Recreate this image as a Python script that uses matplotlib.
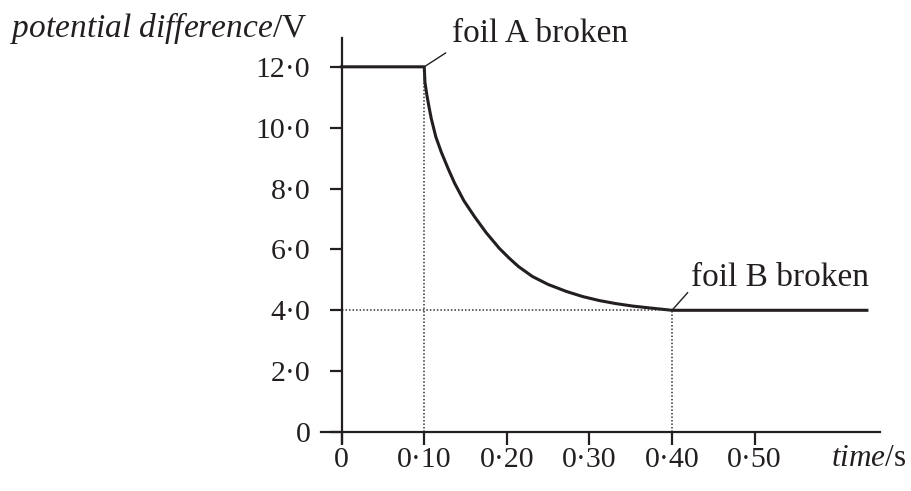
import matplotlib
matplotlib.use("Agg")
import matplotlib.pyplot as plt

# p.d. across the capacitor network
time_s = [0.0, 0.1000, 0.1008, 0.1033, 0.1060, 0.1085, 0.1140, 0.1206,
          0.1290, 0.1367, 0.1480, 0.1608, 0.1750, 0.1911, 0.2030, 0.2140,
          0.231, 0.250, 0.272, 0.292, 0.312, 0.332, 0.352, 0.372, 0.393,
          0.400, 0.636]
pd_volts = [12.0, 12.0, 11.5, 11.05, 10.65, 10.3, 9.7, 9.2,
            8.65, 8.18, 7.60, 7.08, 6.55, 6.03, 5.71, 5.44,
            5.11, 4.85, 4.62, 4.45, 4.32, 4.22, 4.14, 4.08, 4.02,
            4.00, 4.00]

x_ticks = [0.0, 0.10, 0.20, 0.30, 0.40, 0.50]
x_labels = ["0", "0·10", "0·20", "0·30", "0·40", "0·50"]
y_ticks = [0, 2, 4, 6, 8, 10, 12]
y_labels = ["0", "2·0", "4·0", "6·0", "8·0", "10·0", "12·0"]

t_foil_a, v_foil_a = 0.10, 12.0
t_foil_b, v_foil_b = 0.40, 4.0

plt.rcParams["font.family"] = "Liberation Serif"
plt.rcParams["mathtext.fontset"] = "custom"
plt.rcParams["mathtext.rm"] = "Liberation Serif"
plt.rcParams["mathtext.it"] = "Liberation Serif:italic"

FS_TICK = 21.5
FS_TEXT = 24
ink = "#231f20"

fig = plt.figure(figsize=(9.12, 4.91), dpi=100)
ax = fig.add_axes([0.352, 0.0978, 0.613, 0.825])

ax.plot(time_s, pd_volts, color=ink, lw=2.2, solid_joinstyle="round")

# dotted guide lines
dot = dict(color="#333333", lw=1.1, ls=(0, (1.0, 1.3)))
ax.plot([t_foil_a, t_foil_a], [0, v_foil_a], **dot)
ax.plot([t_foil_b, t_foil_b], [0, v_foil_b], **dot)
ax.plot([0, t_foil_b], [v_foil_b, v_foil_b], **dot)

ax.set_xlim(-0.025, 0.652)
ax.set_ylim(-0.36, 12.95)

for side in ("top", "right"):
    ax.spines[side].set_visible(False)
ax.spines["left"].set_position(("data", 0))
ax.spines["bottom"].set_position(("data", 0))
for side in ("left", "bottom"):
    ax.spines[side].set_linewidth(1.6)
    ax.spines[side].set_color(ink)

ax.set_xticks(x_ticks)
ax.set_xticklabels(x_labels)
ax.set_yticks(y_ticks)
ax.set_yticklabels(y_labels)
ax.tick_params(axis="x", direction="out", length=9.5, width=1.6, color=ink,
               pad=1.5, labelsize=FS_TICK, labelcolor=ink)
ax.tick_params(axis="y", direction="out", length=8.5, width=1.6, color=ink,
               pad=14, labelsize=FS_TICK, labelcolor=ink)

ax.annotate("foil A broken", xy=(t_foil_a, v_foil_a), xytext=(20, 18),
            textcoords="offset points", ha="left", va="baseline",
            fontsize=FS_TEXT, color=ink,
            arrowprops=dict(arrowstyle="-", color=ink, lw=1.0,
                            shrinkA=3, shrinkB=0, relpos=(0, 0.0)))
ax.annotate("foil B broken", xy=(t_foil_b, v_foil_b), xytext=(14, 17.5),
            textcoords="offset points", ha="left", va="baseline",
            fontsize=FS_TEXT, color=ink,
            arrowprops=dict(arrowstyle="-", color=ink, lw=1.0,
                            shrinkA=1, shrinkB=0, relpos=(0, 0.15)))

fig.text(10 / 912, 1 - 28 / 491, r"$\mathit{potential\ difference}$/V",
         ha="left", va="center", fontsize=FS_TEXT, color=ink)
fig.text(906 / 912, 1 - 458 / 491, r"$\mathit{time}$/s",
         ha="right", va="center", fontsize=FS_TEXT - 1.5, color=ink)

fig.savefig("out.png", dpi=100)
